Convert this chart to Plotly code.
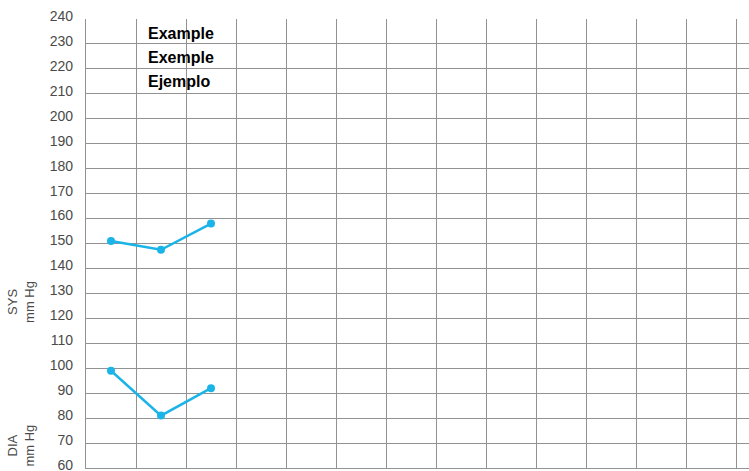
import plotly.graph_objects as go

# readings (one column per measurement)
readings = [0.5, 1.5, 2.5]
sys_vals = [151, 147.5, 158]
dia_vals = [99, 81, 92]

y_ticks = list(range(60, 241, 10))
sample_labels = ["Example", "Exemple", "Ejemplo"]
sample_y = [234.3, 224.5, 214.8]

LINE = "#1ab4e8"
GRID = "#929292"
FONT = "Liberation Sans, Arial, sans-serif"

fig = go.Figure()
for name, vals in [("SYS", sys_vals), ("DIA", dia_vals)]:
    fig.add_trace(
        go.Scatter(
            x=readings,
            y=vals,
            mode="lines+markers",
            line=dict(color=LINE, width=2.5),
            marker=dict(color=LINE, size=8),
            name=name,
            showlegend=False,
        )
    )

for txt, yv in zip(sample_labels, sample_y):
    fig.add_annotation(
        x=1.19, y=yv, xref="x", yref="y",
        text=f"<b>{txt}</b>", showarrow=False,
        xanchor="left", yanchor="middle",
        font=dict(family=FONT, size=16, color="#000"),
    )

# axis captions on the left
fig.add_annotation(
    xref="paper", yref="paper", x=-0.098, y=0.37, xanchor="center", yanchor="middle",
    text="SYS<br>mm Hg", textangle=-90, showarrow=False,
    font=dict(family=FONT, size=13, color="#4a4a4a"),
)
fig.add_annotation(
    xref="paper", yref="paper", x=-0.098, y=0.05, xanchor="center", yanchor="middle",
    text="DIA<br>mm Hg", textangle=-90, showarrow=False,
    font=dict(family=FONT, size=13, color="#4a4a4a"),
)

fig.update_layout(
    width=749, height=471,
    margin=dict(l=86, r=0, t=19, b=3),
    plot_bgcolor="white", paper_bgcolor="white",
    font=dict(family=FONT, size=14, color="#4a4a4a"),
)
fig.update_xaxes(
    range=[0, 13.26], dtick=1, tick0=0, showticklabels=False,
    showgrid=True, gridcolor=GRID, gridwidth=1.2,
    showline=True, linecolor=GRID, linewidth=1.2, mirror=False,
    zeroline=False, automargin=False,
)
fig.update_yaxes(
    range=[60, 240], tickvals=y_ticks, ticks="",
    showgrid=True, gridcolor=GRID, gridwidth=1.2,
    showline=True, linecolor=GRID, linewidth=1.2,
    zeroline=False, ticklabelstandoff=9, ticklabelshift=-3,
    ticklabeloverflow="allow", automargin=False,
)

# drop the default body margin so the figure sits at the window's corner
fig.write_html(
    "out.html",
    config={"displayModeBar": False},
    post_script="document.body.style.margin='0';",
)
